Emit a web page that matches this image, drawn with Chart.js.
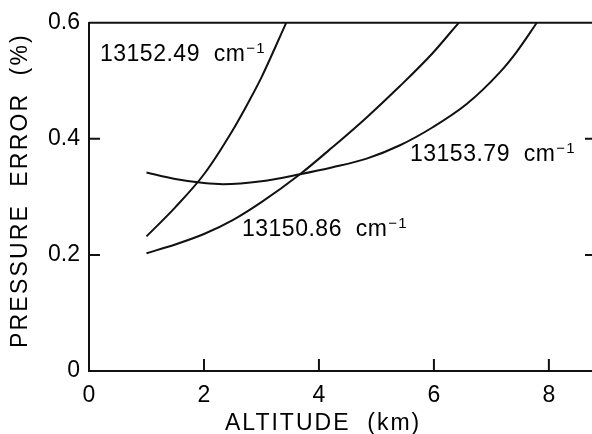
<!DOCTYPE html>
<html>
<head>
<meta charset="utf-8">
<script src="https://cdn.jsdelivr.net/npm/chart.js@4"></script>
<style>
  html, body { margin: 0; padding: 0; background: #fff; }
  canvas { display: block; }
</style>
</head>
<body>
<canvas id="chart" width="592" height="434"></canvas>
<script>
// altitude (km) / pressure error (%) for each line
const altA = [1.0, 1.5, 2.0, 2.5, 2.8, 3.0, 3.43];
const errA = [0.232, 0.282, 0.339, 0.415, 0.468, 0.506, 0.60];

const altB = [1.0, 1.5, 2.0, 2.5, 3.0, 3.67, 4.24, 4.83, 5.41, 5.98, 6.43];
const errB = [0.203, 0.218, 0.236, 0.26, 0.291, 0.339, 0.386, 0.437, 0.491, 0.548, 0.60];

const altC = [1.0, 1.5, 2.0, 2.33, 3.0, 3.67, 4.24, 4.83, 5.41, 5.98, 6.57, 7.15, 7.44, 7.79];
const errC = [0.342, 0.331, 0.324, 0.322, 0.327, 0.339, 0.351, 0.366, 0.389, 0.42, 0.46, 0.515, 0.55, 0.60];

const seriesNames = ["13152.49", "13150.86", "13153.79"];
const yTicks = [0, 0.2, 0.4, 0.6];
const xTicks = [0, 2, 4, 6, 8];

// where the line names sit (left x, baseline y in px)
const labelSpots = [[100, 61], [242, 236], [410, 161]];

function toPoints(xs, ys) {
  return xs.map((x, i) => ({ x: x, y: ys[i] }));
}

Chart.defaults.font.family = "'Liberation Sans', Arial, sans-serif";
Chart.defaults.color = "#000";

function lineSet(name, xs, ys) {
  return {
    label: name,
    data: toPoints(xs, ys),
    showLine: true,
    borderColor: "#111",
    borderWidth: 2,
    pointRadius: 0,
    cubicInterpolationMode: "monotone",
    fill: false
  };
}

// extra bits: top frame, inward ticks, titles, curve labels
const decor = {
  id: "decor",
  afterDraw(chart) {
    const ctx = chart.ctx;
    const a = chart.chartArea;
    const xs = chart.scales.x;
    const ys = chart.scales.y;
    ctx.save();
    ctx.strokeStyle = "#111";
    ctx.lineWidth = 2;

    // top line
    ctx.beginPath();
    ctx.moveTo(a.left, a.top);
    ctx.lineTo(a.right, a.top);
    ctx.stroke();

    // y ticks pointing in, left and right
    yTicks.forEach(v => {
      if (v === 0 || v === 0.6) return;
      const py = ys.getPixelForValue(v);
      ctx.beginPath();
      ctx.moveTo(a.left, py);
      ctx.lineTo(a.left + 11, py);
      ctx.moveTo(a.right - 7, py);
      ctx.lineTo(a.right, py);
      ctx.stroke();
    });

    // x ticks pointing up
    xTicks.forEach(v => {
      if (v === 0) return;
      const px = xs.getPixelForValue(v);
      ctx.beginPath();
      ctx.moveTo(px, a.bottom);
      ctx.lineTo(px, a.bottom - 12);
      ctx.stroke();
    });

    ctx.fillStyle = "#000";
    ctx.textAlign = "left";
    ctx.textBaseline = "alphabetic";

    // axis titles
    ctx.font = "23px 'Liberation Sans', Arial, sans-serif";
    ctx.letterSpacing = "2px";
    ctx.fillText("ALTITUDE  (km)", 225, 430);

    ctx.save();
    ctx.translate(27, 348);
    ctx.rotate(-Math.PI / 2);
    ctx.letterSpacing = "2.2px";
    ctx.fillText("PRESSURE  ERROR  (%)", 0, 0);
    ctx.restore();

    // line names with cm^-1
    seriesNames.forEach((name, i) => {
      const [lx, ly] = labelSpots[i];
      ctx.font = "23px 'Liberation Sans', Arial, sans-serif";
      ctx.letterSpacing = "0.5px";
      const main = name + "  cm";
      ctx.fillText(main, lx, ly);
      const w = ctx.measureText(main).width;
      ctx.font = "15px 'Liberation Sans', Arial, sans-serif";
      ctx.letterSpacing = "1px";
      ctx.fillText("\u22121", lx + w + 1, ly - 8);
    });

    ctx.restore();
  }
};

new Chart(document.getElementById("chart"), {
  type: "scatter",
  data: {
    datasets: [
      lineSet(seriesNames[0], altA, errA),
      lineSet(seriesNames[1], altB, errB),
      lineSet(seriesNames[2], altC, errC)
    ]
  },
  options: {
    responsive: false,
    animation: false,
    layout: { padding: { left: 0, right: 0, top: 22, bottom: 0 } },
    plugins: {
      legend: { display: false },
      tooltip: { enabled: false }
    },
    scales: {
      x: {
        type: "linear",
        min: 0,
        max: 8.75,
        grid: { display: false, drawTicks: false },
        border: { display: true, color: "#111", width: 2 },
        ticks: {
          stepSize: 2,
          includeBounds: false,
          padding: 11,
          font: { size: 23 },
          color: "#000",
          maxRotation: 0
        },
        afterFit: s => { s.height = 63; }
      },
      y: {
        type: "linear",
        min: 0,
        max: 0.6,
        grid: { display: false, drawTicks: false },
        border: { display: true, color: "#111", width: 2 },
        ticks: {
          stepSize: 0.2,
          padding: 9,
          font: { size: 23 },
          color: "#000",
          callback: v => (Math.abs(v) < 1e-9 ? "0" : v.toFixed(1))
        },
        afterFit: s => { s.width = 89; }
      }
    }
  },
  plugins: [decor]
});
</script>
</body>
</html>
